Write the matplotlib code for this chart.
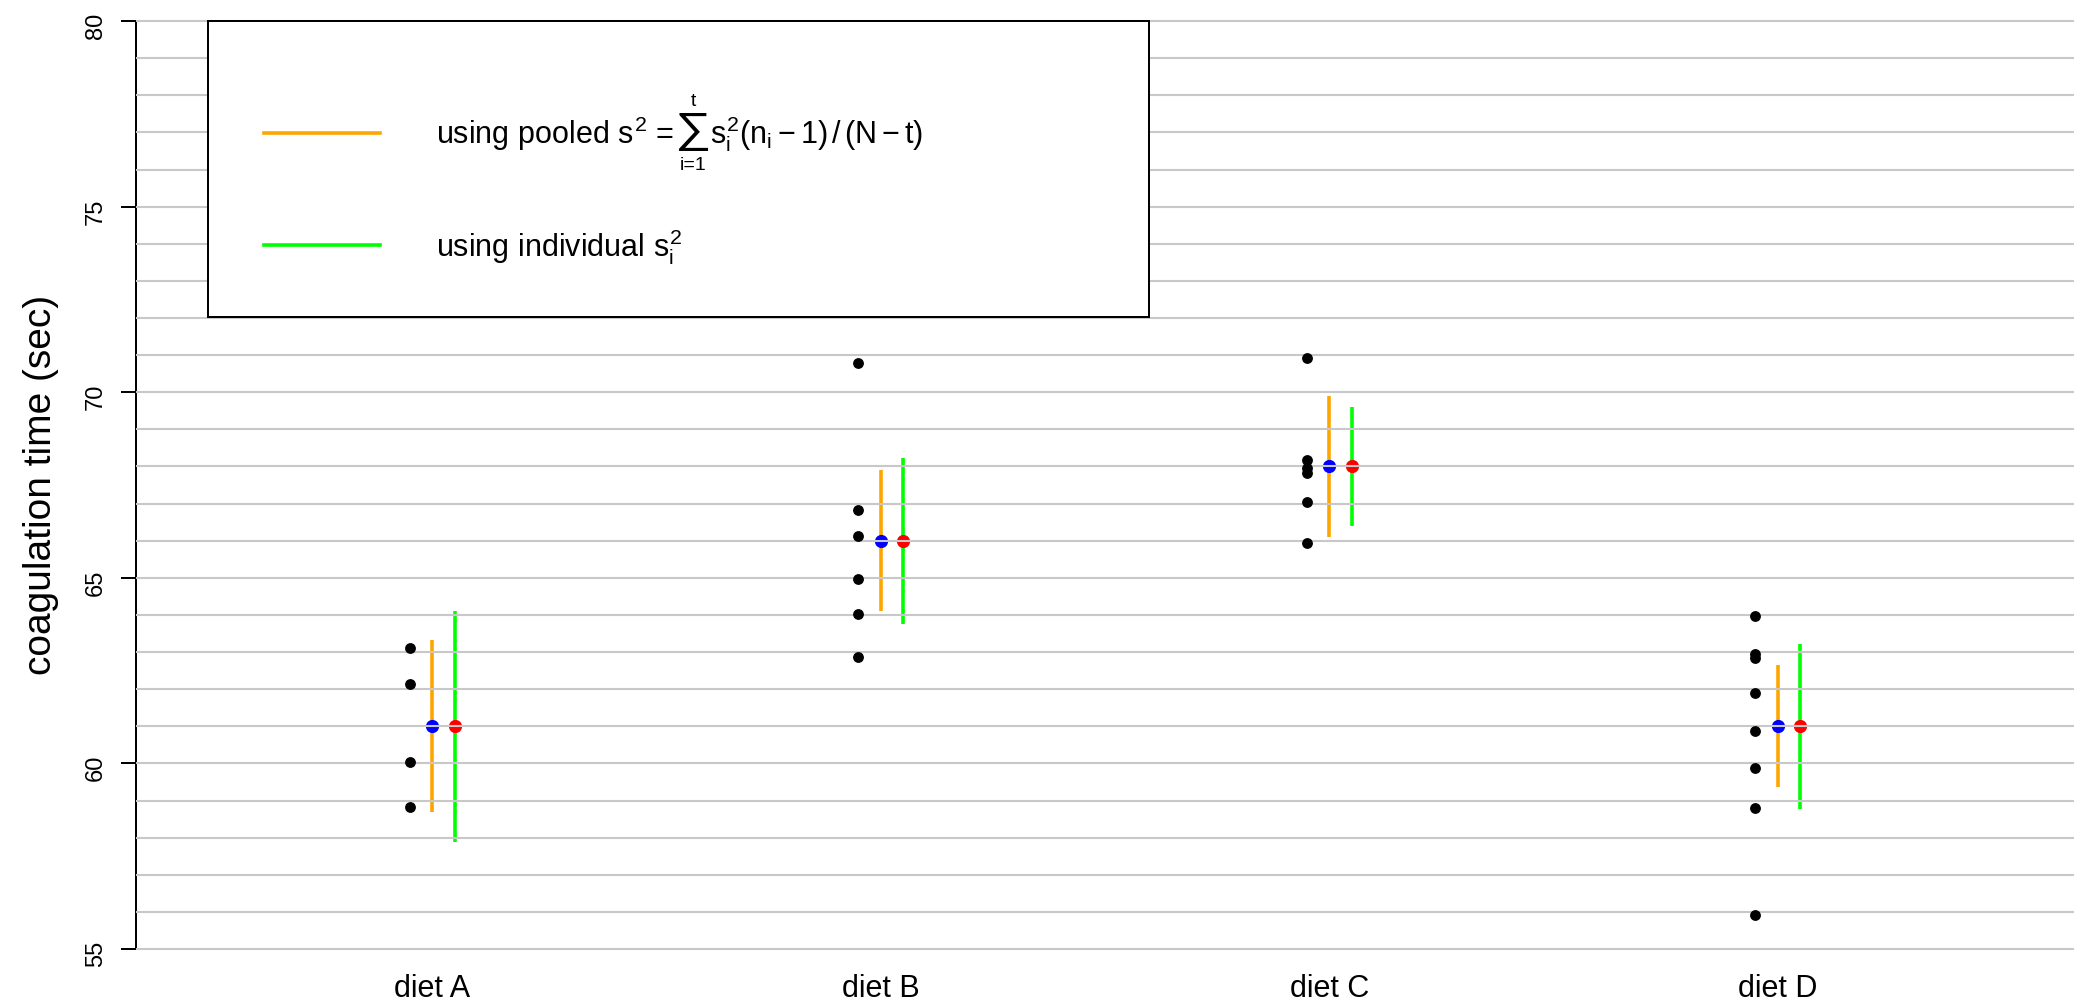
import numpy as np
import matplotlib.pyplot as plt
from matplotlib.patches import Rectangle, PathPatch
from matplotlib.transforms import IdentityTransform, Affine2D
from matplotlib.textpath import TextPath
from matplotlib.font_manager import FontProperties

plt.rcParams['font.family'] = ['Liberation Sans', 'DejaVu Sans']
plt.rcParams['mathtext.fontset'] = 'custom'
plt.rcParams['mathtext.rm'] = 'Liberation Sans'
plt.rcParams['mathtext.it'] = 'Liberation Sans'
plt.rcParams['mathtext.bf'] = 'Liberation Sans:bold'

# coagulation times per diet (slightly jittered so ties stay visible)
diets = ['diet A', 'diet B', 'diet C', 'diet D']
obs_A = [63.12, 62.14, 60.05, 58.83]
obs_B = [70.80, 66.83, 66.14, 64.96, 64.02, 62.86]
obs_C = [70.91, 68.17, 67.97, 67.83, 67.04, 65.95]
obs_D = [63.98, 62.95, 62.85, 61.91, 60.87, 59.89, 58.81, 55.92]
groups = [obs_A, obs_B, obs_C, obs_D]

means = [61, 66, 68, 61]

# intervals using the pooled variance
pooled_low = [58.68, 64.11, 66.09, 59.36]
pooled_high = [63.32, 67.90, 69.90, 62.64]
# intervals using each group's own variance
indiv_low = [57.89, 63.77, 66.40, 58.77]
indiv_high = [64.11, 68.24, 69.59, 63.22]

grid_vals = np.arange(55, 81)

W, H = 2074, 1008
fig = plt.figure(figsize=(W / 100, H / 100), dpi=100)
ax = fig.add_axes([136 / W, (H - 967.6) / H, 1938 / W, 965.1 / H])
ax.set_xlim(0.34, 4.66)
ax.set_ylim(54.5, 80.5)

x = np.arange(1, len(diets) + 1)
off = 0.05

for v in grid_vals:
    ax.axhline(v, color='#c8c8c8', lw=1.5, zorder=3)

ax.vlines(x, pooled_low, pooled_high, color='#FFA500', lw=2.6, zorder=1)
ax.vlines(x + off, indiv_low, indiv_high, color='#00FF00', lw=2.6, zorder=1)
ax.plot(x, means, 'o', color='#0000FF', ms=9.5, mec='none', zorder=2)
ax.plot(x + off, means, 'o', color='#FF0000', ms=9.5, mec='none', zorder=2)

for xi, g in zip(x, groups):
    ax.plot(np.full(len(g), xi - off), g, 'o', color='black', ms=7.8, mec='none', zorder=4)

# axes styling
for s in ['top', 'right', 'bottom']:
    ax.spines[s].set_visible(False)
ax.spines['left'].set_bounds(55, 80)
ax.spines['left'].set_linewidth(1.44)
ax.set_yticks(np.arange(55, 81, 5))
ax.tick_params(axis='y', length=10.8, width=1.44, labelsize=17,
               labelrotation=90, pad=10)
ax.set_xticks(x)
ax.set_xticklabels(diets)
ax.tick_params(axis='x', length=0, labelsize=22, pad=4.5)

fig.text(41 / W, 1 - 485 / H, 'coagulation time (sec)', rotation=90,
         ha='center', va='center', fontsize=28)

# legend box
ax.add_patch(Rectangle((0.501, 72.03), 2.096, 7.97, facecolor='white',
                       edgecolor='black', lw=1.44, zorder=5))
ax.plot([0.626, 0.885], [76.98, 76.98], color='#FFA500', lw=2.6, zorder=6)
ax.plot([0.626, 0.885], [73.97, 73.97], color='#00FF00', lw=2.6, zorder=6)

# pooled-variance formula, built piece by piece so the sum sign can be large
r = fig.canvas.get_renderer()
idt = IdentityTransform()
t1 = ax.text(1.0096, 76.69, r'using pooled $s^2$ =', fontsize=22,
             va='baseline', ha='left', zorder=6)
bb = t1.get_window_extent(r)
base_y = ax.transData.transform((1.0096, 76.69))[1]

# sum sign as a glyph outline stretched to 29 x 38 px
sig_path = TextPath((0, 0), '\u2211', size=1,
                    prop=FontProperties(family=['Liberation Sans', 'DejaVu Sans']))
ext = sig_path.get_extents()
sig_w, sig_h = 29.0, 38.0
sig_x0 = bb.x1 + 5
sig_y0 = H - 151
sig_tr = (Affine2D().translate(-ext.x0, -ext.y0)
          .scale(sig_w / ext.width, sig_h / ext.height)
          .translate(sig_x0, sig_y0))
fig.add_artist(PathPatch(sig_tr.transform_path(sig_path), facecolor='black',
                         edgecolor='none', transform=idt, zorder=6))
cx = sig_x0 + sig_w / 2
ax.text(cx, H - 101, 't', fontsize=14, transform=idt, ha='center',
        va='center', zorder=6)
ax.text(cx, H - 166, 'i=1', fontsize=14, transform=idt, ha='center',
        va='center', zorder=6)
ax.text(sig_x0 + sig_w + 2, base_y, r'$s_i^2(n_i - 1)\,/\,(N - t)$',
        fontsize=22, transform=idt, va='baseline', ha='left', zorder=6)

ax.text(1.0096, 73.65, r'using individual $s_i^2$',
        fontsize=22, va='baseline', ha='left', zorder=6)

fig.savefig('out.png', dpi=100)
